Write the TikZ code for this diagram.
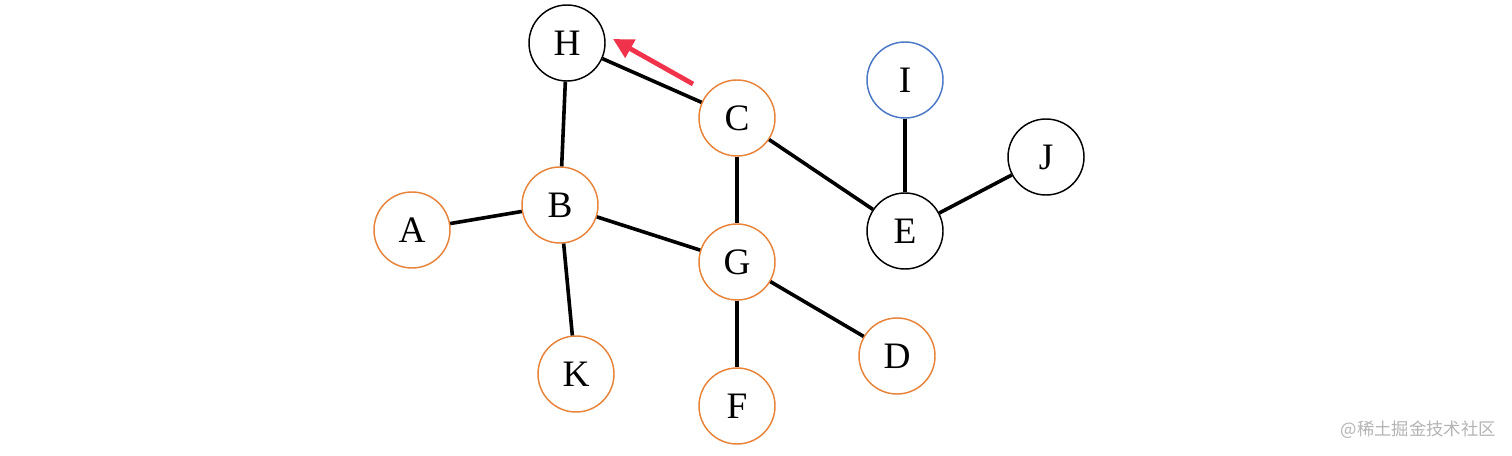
\documentclass[tikz,border=0pt]{standalone}
\usepackage{fontspec}
\setmainfont{Liberation Serif}
\newfontfamily\cjk{Noto Sans CJK SC}
\usetikzlibrary{arrows.meta}
\definecolor{orangec}{HTML}{E8833A}
\definecolor{bluec}{HTML}{4A78C6}
\definecolor{redarrow}{HTML}{F0334A}
\definecolor{wmgrey}{HTML}{B4B4B4}
\tikzset{
  vtx/.style={circle, draw=black, line width=1.1pt, minimum size=57pt, inner sep=0pt, font=\fontsize{28}{32}\selectfont, fill=white},
  ovtx/.style={vtx, draw=orangec},
  bvtx/.style={vtx, draw=bluec},
  edge/.style={line width=2.7pt, black},
  hint/.style={line width=3.6pt, redarrow, -{Triangle[length=15pt,width=15pt]}}
}
\begin{document}
\begin{tikzpicture}[x=0.75pt,y=-0.75pt]
\useasboundingbox[fill=white] (0,0) rectangle (1512,456);
\node[vtx]  (H) at (567,43) {H};
\node[ovtx] (C) at (737,118) {C};
\node[bvtx] (I) at (905,80) {I};
\node[vtx]  (J) at (1046,157) {J};
\node[ovtx] (A) at (412,230) {A};
\node[ovtx] (B) at (560,205) {B};
\node[vtx]  (E) at (905,231) {E};
\node[ovtx] (G) at (737,262) {G};
\node[ovtx] (D) at (897,356) {D};
\node[ovtx] (K) at (576,374) {K};
\node[ovtx] (F) at (737,406) {F};
\draw[edge] (H) -- (B);
\draw[edge] (H) -- (C);
\draw[edge] (B) -- (A);
\draw[edge] (B) -- (K);
\draw[edge] (B) -- (G);
\draw[edge] (C) -- (G);
\draw[edge] (C) -- (E);
\draw[edge] (G) -- (F);
\draw[edge] (G) -- (D);
\draw[edge] (E) -- (I);
\draw[edge] (E) -- (J);
\coordinate (ats) at (693,84);
\coordinate (ate) at (613,39);
\draw[hint] (ats) -- (ate);
\node[anchor=east, text=wmgrey, font=\cjk\fontsize{13}{15}\selectfont, inner sep=0pt] (wm) at (1496,430) {@稀土掘金技术社区};
\end{tikzpicture}
\end{document}
